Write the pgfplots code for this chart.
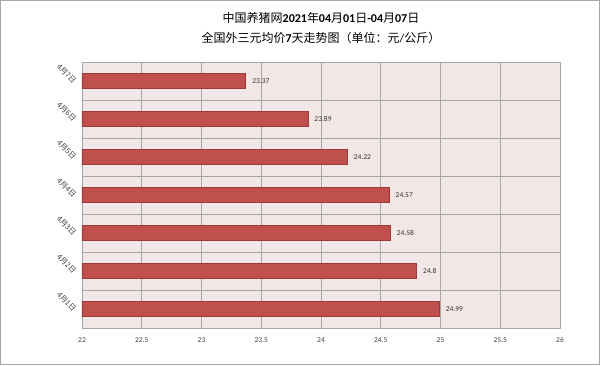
\documentclass[border=0pt]{standalone}
\usepackage{fontspec}
\setmainfont{Carlito}
\newfontfamily\cjk{Noto Sans CJK SC}
\usepackage{pgfplots}
\pgfplotsset{compat=1.18}
\definecolor{barred}{HTML}{C0504D}
\definecolor{baredge}{HTML}{9C3B39}
\definecolor{bgpink}{HTML}{F2E7E7}
\definecolor{gridg}{HTML}{A6A6A6}
\begin{document}
\begin{tikzpicture}[x=1pt,y=1pt]
\useasboundingbox (-82,-37) rectangle (518,328);
\draw[gridg, line width=1pt] (-81.5,-36.5) rectangle (517.5,327.5);
\begin{axis}[
  at={(0,0)}, anchor=south west,
  scale only axis, width=478pt, height=266pt,
  xmin=22, xmax=26, ymin=0.5, ymax=7.5,
  /pgf/number format/assume math mode=true,
  xtick={22,22.5,...,26},
  xticklabels={22,22.5,23,23.5,24,24.5,25,25.5,26},
  ytick={1,...,7},
  yticklabels={{\cjk 4月1日},{\cjk 4月2日},{\cjk 4月3日},{\cjk 4月4日},{\cjk 4月5日},{\cjk 4月6日},{\cjk 4月7日}},
  minor ytick={0.5,1.5,...,7.5},
  xmajorgrids, yminorgrids,
  grid style={gridg, line width=0.8pt},
  minor grid style={gridg, line width=0.8pt},
  axis line style={gridg, line width=0.8pt},
  major tick length=0pt, minor tick length=0pt,
  axis background/.style={fill=bgpink},
  tick label style={font=\fontsize{7.5}{8}\selectfont, text=black!75},
  xticklabel style={yshift=-6pt},
  yticklabel style={rotate=-45, anchor=east, inner sep=1pt, xshift=-3pt, yshift=-6pt},
  xbar, bar width=15pt, bar shift=0pt,
  nodes near coords,
  every node near coord/.append style={font=\fontsize{7.5}{8}\selectfont, text=black!80, anchor=west, xshift=3pt},
  clip=true,
]
\addplot[fill=barred, draw=baredge, line width=0.6pt] coordinates {
 (24.99,1) (24.8,2) (24.58,3) (24.57,4) (24.22,5) (23.89,6) (23.37,7)
};
\end{axis}
\node[font=\fontsize{12}{14}\selectfont] at (239,310) {{\cjk 中国养猪网}\textbf{2021}{\cjk 年}\textbf{04}{\cjk 月}\textbf{01}{\cjk 日}\textbf{-04}{\cjk 月}\textbf{07}{\cjk 日}};
\node[font=\fontsize{12}{14}\selectfont] at (239,290) {{\cjk 全国外三元均价}\textbf{7}{\cjk 天走势图（单位：元}/{\cjk 公斤）}};
\end{tikzpicture}
\end{document}
